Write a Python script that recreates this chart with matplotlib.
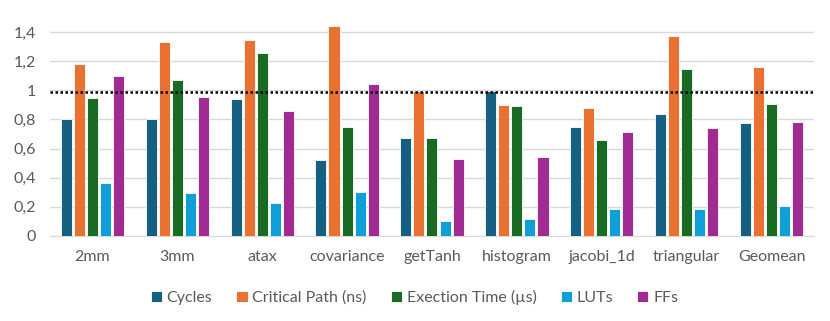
import numpy as np
import matplotlib.pyplot as plt

plt.rcParams['font.family'] = ['Lato', 'DejaVu Sans']

categories = ["2mm", "3mm", "atax", "covariance", "getTanh", "histogram", "jacobi_1d", "triangular", "Geomean"]
cycles = [0.806, 0.806, 0.937, 0.520, 0.672, 0.997, 0.751, 0.836, 0.776]
critical_path = [1.177, 1.333, 1.342, 1.444, 0.997, 0.896, 0.880, 1.370, 1.160]
exec_time = [0.949, 1.073, 1.257, 0.751, 0.672, 0.889, 0.661, 1.147, 0.903]
luts = [0.364, 0.295, 0.226, 0.302, 0.106, 0.115, 0.184, 0.184, 0.207]
ffs = [1.096, 0.953, 0.857, 1.045, 0.530, 0.539, 0.716, 0.744, 0.783]

series = [
    ("Cycles", cycles, "#156082"),
    ("Critical Path (ns)", critical_path, "#E97132"),
    ("Exection Time (µs)", exec_time, "#196B24"),
    ("LUTs", luts, "#0F9ED5"),
    ("FFs", ffs, "#A02B93"),
]

fig = plt.figure(figsize=(8.3, 3.21), dpi=100)
ax = fig.add_axes([0.0602, 0.2648, 0.9205, 0.681])

x = np.arange(len(categories))
pitch = 0.154
width = 0.13
for i, (name, vals, color) in enumerate(series):
    ax.bar(x + (i - 2) * pitch, vals, width, color=color, label=name,
           edgecolor="white", linewidth=0.6, zorder=3)

# reference line near 1
ax.axhline(0.99, color="black", linestyle=(0, (1, 1)), linewidth=1.8, zorder=4)

ax.set_xlim(-0.5, len(categories) - 0.5)
ax.set_ylim(0, 1.5)
ax.set_yticks(np.arange(0, 1.41, 0.2))
ax.set_yticklabels(["0", "0,2", "0,4", "0,6", "0,8", "1", "1,2", "1,4"])
ax.set_xticks(x)
ax.set_xticklabels(categories)
ax.grid(axis="y", color="#D9D9D9", linewidth=1, zorder=0)
for s in ["top", "right", "left"]:
    ax.spines[s].set_visible(False)
ax.spines["bottom"].set_color("#D9D9D9")
ax.tick_params(length=0, labelsize=11.5, colors="#595959")
ax.tick_params(axis="x", pad=10)
ax.tick_params(axis="y", pad=10)

ax.legend(loc="upper center", bbox_to_anchor=(0.477, -0.18), ncol=5, frameon=False,
          fontsize=11.5, labelcolor="#595959", handlelength=0.7, handleheight=0.7,
          handletextpad=0.3, columnspacing=1.5)

fig.savefig("out.png", dpi=100)
